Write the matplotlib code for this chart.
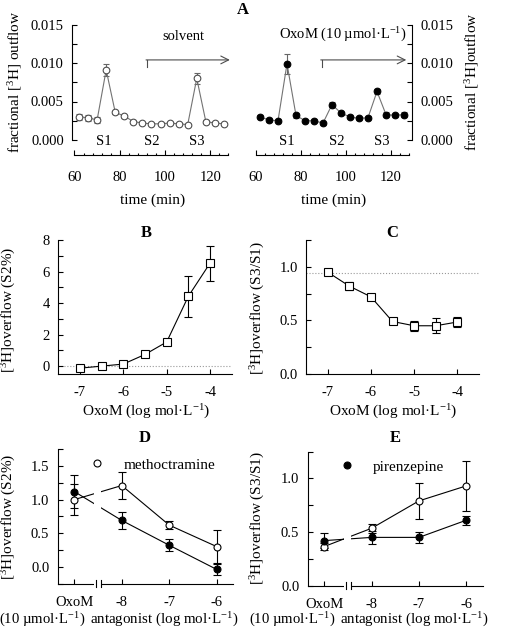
import matplotlib
matplotlib.use('Agg')
import matplotlib.pyplot as plt
from matplotlib.ticker import MultipleLocator, FixedLocator, FormatStrFormatter
from matplotlib.lines import Line2D

plt.rcParams['font.family'] = ['Liberation Serif', 'DejaVu Serif']
plt.rcParams['mathtext.fontset'] = 'custom'
plt.rcParams['mathtext.rm'] = 'Liberation Serif'
plt.rcParams['mathtext.it'] = 'Liberation Serif:italic'
plt.rcParams['mathtext.bf'] = 'Liberation Serif:bold'
plt.rcParams['axes.unicode_minus'] = False

# ---------------- data ----------------
time_min = [62, 66, 70, 74, 78, 82, 86, 90, 94, 98, 102, 106, 110, 114, 118, 122, 126]
solvent_outflow = [0.0030, 0.0029, 0.0026, 0.0091, 0.0036, 0.0031, 0.0024, 0.0022, 0.0021,
                   0.0021, 0.0022, 0.0021, 0.0020, 0.0080, 0.0024, 0.0022, 0.0021]
solvent_err = [0.0004, 0.0004, 0.0004, 0.0008, 0.0002, 0.0002, 0.0002, 0.0001, 0.0001,
               0.0001, 0.0001, 0.0001, 0.0001, 0.0007, 0.0002, 0.0001, 0.0001]
oxom_outflow = [0.0030, 0.0026, 0.0025, 0.0099, 0.0032, 0.0025, 0.0025, 0.0022, 0.0046,
                0.0035, 0.0030, 0.0028, 0.0029, 0.0063, 0.0033, 0.0032, 0.0033]
oxom_err = [0.0002, 0.0002, 0.0002, 0.0013, 0.0003, 0.0002, 0.0002, 0.0002, 0.0003,
            0.0002, 0.0002, 0.0002, 0.0002, 0.0003, 0.0003, 0.0002, 0.0003]
s_labels = ['S1', 'S2', 'S3']
s_pos_left = [73, 94, 114]
s_pos_right = [74, 96, 116]

log_oxom = [-7, -6.5, -6, -5.5, -5, -4.5, -4]
s2_pct = [-0.13, 0.0, 0.13, 0.74, 1.53, 4.43, 6.53]
s2_err = [0.15, 0.10, 0.15, 0.15, 0.15, 1.30, 1.10]
s3s1 = [0.95, 0.82, 0.72, 0.49, 0.45, 0.45, 0.485]
s3s1_err = [0.02, 0.04, 0.03, 0.02, 0.045, 0.07, 0.05]
s3s1_control = 0.94

antag_x = [-9, -8, -7, -6]            # -9 = OxoM alone (10 µmol/L)
antag_ticklabels = ['OxoM', '-8', '-7', '-6']
D_methoc = [1.00, 1.21, 0.62, 0.30]
D_methoc_err = [0.23, 0.20, 0.06, 0.24]
D_piren = [1.12, 0.69, 0.32, -0.04]
D_piren_err = [0.25, 0.13, 0.09, 0.08]
E_methoc = [0.365, 0.535, 0.79, 0.93]
E_methoc_err = [0.03, 0.04, 0.17, 0.23]
E_piren = [0.42, 0.45, 0.45, 0.61]
E_piren_err = [0.07, 0.06, 0.05, 0.04]

# ---------------- figure ----------------
W, H = 505, 629
fig = plt.figure(figsize=(W / 100, H / 100), dpi=100)


def box(l, t, r, b):
    return [l / W, 1 - b / H, (r - l) / W, (b - t) / H]


def fp(x, y):
    return (x / W, 1 - y / H)


TICK = 10.5
LAB = 11
LW = 0.8


def style(ax, xpad=9, ypad=6):
    for s in ['top', 'right']:
        ax.spines[s].set_visible(False)
    for s in ax.spines.values():
        s.set_linewidth(LW)
    ax.tick_params(which='both', direction='in', labelsize=TICK, width=LW, length=3.6)
    ax.tick_params(axis='x', pad=xpad)
    ax.tick_params(axis='y', pad=ypad)


# ---------- Panel A ----------
def panel_a(ax, y, yerr, filled, spos, right=False):
    ax.set_xlim(59, 130 if not right else 129.6)
    ax.set_ylim(-0.001, 0.0155)
    ax.spines['top'].set_visible(False)
    if right:
        ax.spines['left'].set_visible(False)
        ax.yaxis.tick_right()
        side = 'right'
    else:
        ax.spines['right'].set_visible(False)
        side = 'left'
    for s in ax.spines.values():
        s.set_linewidth(LW)
    ax.spines[side].set_bounds(0, 0.015)
    ax.spines['bottom'].set_position(('outward', 5.3))
    ax.spines['bottom'].set_bounds(60, 128)
    ax.xaxis.set_major_locator(FixedLocator([60, 80, 100, 120]))
    ax.xaxis.set_minor_locator(MultipleLocator(4))
    ax.yaxis.set_major_locator(MultipleLocator(0.005))
    ax.yaxis.set_minor_locator(MultipleLocator(0.0025))
    ax.yaxis.set_major_formatter(FormatStrFormatter('%.3f'))
    ax.tick_params(which='both', direction='in', labelsize=TICK, width=LW)
    ax.tick_params(axis='y', which='both', length=3.6, pad=6)
    ax.tick_params(axis='x', which='major', length=3.6, pad=11.5)
    ax.tick_params(axis='x', which='minor', length=1.8)
    mfc = 'k' if filled else 'white'
    mec = 'k' if filled else '0.3'
    ax.errorbar(time_min, y, yerr=yerr, fmt='-o', color='0.45', lw=LW, ms=4.8,
                mfc=mfc, mec=mec, mew=0.8, ecolor='0.4', elinewidth=0.8, capsize=2.5,
                capthick=0.8, zorder=3)
    for lab, xp in zip(s_labels, spos):
        ax.text(xp, -0.0002, lab, ha='center', va='center', fontsize=TICK)


axA1 = fig.add_axes(box(72.2, 20.65, 233, 147.7))
panel_a(axA1, solvent_outflow, solvent_err, False, s_pos_left)
axA1.plot([92, 92], [0.0095, 0.0104], color='0.3', lw=LW)
axA1.annotate('', xy=(128.6, 0.0104), xytext=(91.6, 0.0104),
              arrowprops=dict(arrowstyle='->', color='0.3', lw=LW,
                              shrinkA=0, shrinkB=0, mutation_scale=14))
axA1.text(108, 0.0134, 'solvent', ha='center', va='center', fontsize=TICK)

axA2 = fig.add_axes(box(253.25, 20.65, 412.1, 147.7))
panel_a(axA2, oxom_outflow, oxom_err, True, s_pos_right, right=True)
axA2.plot([89.4, 89.4], [0.0095, 0.0104], color='0.3', lw=LW)
axA2.annotate('', xy=(127, 0.0104), xytext=(89.0, 0.0104),
              arrowprops=dict(arrowstyle='->', color='0.3', lw=LW,
                              shrinkA=0, shrinkB=0, mutation_scale=14))
axA2.text(99, 0.0136, r'OxoM (10 µmol·L$^{-1}$)', ha='center', va='center', fontsize=TICK)

fig.text(*fp(243, 10), 'A', ha='center', va='center', fontsize=12, fontweight='bold')
fig.text(*fp(15, 82), r'fractional [$^{3}$H] outflow', rotation=90, ha='center', va='center', fontsize=LAB)
fig.text(*fp(472, 82), r'fractional [$^{3}$H]outflow', rotation=90, ha='center', va='center', fontsize=LAB)
fig.text(*fp(153, 200), 'time (min)', ha='center', va='center', fontsize=LAB)
fig.text(*fp(334, 200), 'time (min)', ha='center', va='center', fontsize=LAB)

# ---------- Panel B ----------
axB = fig.add_axes(box(58.3, 240, 231.7, 374))
style(axB)
axB.set_xlim(-7.5, -3.5)
axB.set_ylim(-0.5, 8)
axB.spines['left'].set_bounds(-0.5, 8)
axB.axhline(0, color='0.6', ls=':', lw=0.8, zorder=1)
axB.errorbar(log_oxom, s2_pct, yerr=s2_err, fmt='-s', color='k', lw=LW, ms=5.3,
             mfc='white', mec='k', mew=0.8, elinewidth=0.8, capsize=3, capthick=0.8, zorder=3)
axB.xaxis.set_major_locator(FixedLocator([-7, -6, -5, -4]))
axB.yaxis.set_major_locator(MultipleLocator(2))
axB.yaxis.set_minor_locator(MultipleLocator(1))
axB.xaxis.set_major_formatter(FormatStrFormatter('%d'))
axB.yaxis.set_major_formatter(FormatStrFormatter('%d'))
fig.text(*fp(146, 233), 'B', ha='center', va='center', fontsize=12, fontweight='bold')
fig.text(*fp(9, 310), r'[$^{3}$H]overflow (S2%)', rotation=90, ha='center', va='center', fontsize=LAB)
fig.text(*fp(146, 412), r'OxoM (log mol·L$^{-1}$)', ha='center', va='center', fontsize=LAB)

# ---------- Panel C ----------
axC = fig.add_axes(box(306.1, 240, 478.9, 374))
style(axC)
axC.set_xlim(-7.5, -3.5)
axC.set_ylim(0, 1.25)
axC.axhline(s3s1_control, color='0.6', ls=':', lw=0.8, zorder=1)
axC.errorbar(log_oxom, s3s1, yerr=s3s1_err, fmt='-s', color='k', lw=LW, ms=5.3,
             mfc='white', mec='k', mew=0.8, elinewidth=0.8, capsize=3, capthick=0.8, zorder=3)
axC.xaxis.set_major_locator(FixedLocator([-7, -6, -5, -4]))
axC.yaxis.set_major_locator(MultipleLocator(0.5))
axC.yaxis.set_minor_locator(MultipleLocator(0.25))
axC.xaxis.set_major_formatter(FormatStrFormatter('%d'))
axC.yaxis.set_major_formatter(FormatStrFormatter('%.1f'))
fig.text(*fp(392, 233), 'C', ha='center', va='center', fontsize=12, fontweight='bold')
fig.text(*fp(258, 308), r'[$^{3}$H]overflow (S3/S1)', rotation=90, ha='center', va='center', fontsize=LAB)
fig.text(*fp(393, 412), r'OxoM (log mol·L$^{-1}$)', ha='center', va='center', fontsize=LAB)


# ---------- Panels D, E ----------
def antag_panel(ax, ylim, methoc, methoc_err, piren, piren_err, legend_open):
    style(ax)
    ax.set_xlim(-9.35, -5.65)
    ax.set_ylim(*ylim)
    ax.errorbar(antag_x, methoc, yerr=methoc_err, fmt='-o', color='k', lw=LW, ms=5,
                mfc='white', mec='k', mew=0.8, elinewidth=0.8, capsize=3, capthick=0.8, zorder=2)
    ax.errorbar(antag_x, piren, yerr=piren_err, fmt='-o', color='k', lw=LW, ms=5,
                mfc='k', mec='k', mew=0.8, elinewidth=0.8, capsize=3, capthick=0.8, zorder=2)
    band = ax.axvspan(-8.58, -8.44, ymin=-0.05, ymax=0.8, color='white', zorder=2.6, lw=0)
    band.set_clip_on(False)
    tr = ax.get_xaxis_transform()
    for xb in (-8.54, -8.43):
        ax.plot([xb, xb], [-0.027, 0.027], transform=tr, color='k', lw=LW,
                clip_on=False, zorder=2.7)
    ax.xaxis.set_major_locator(FixedLocator(antag_x))
    ax.set_xticklabels(antag_ticklabels)
    ax.yaxis.set_major_locator(MultipleLocator(0.5))
    ax.yaxis.set_minor_locator(MultipleLocator(0.25))
    ax.yaxis.set_major_formatter(FormatStrFormatter('%.1f'))
    if legend_open:
        h = Line2D([], [], marker='o', ls='none', ms=5, mfc='white', mec='k', mew=0.8)
        lab = 'methoctramine'
    else:
        h = Line2D([], [], marker='o', ls='none', ms=5, mfc='k', mec='k', mew=0.8)
        lab = 'pirenzepine'
    ax.legend([h], [lab], loc='center left', bbox_to_anchor=(0.182, 0.885), frameon=False,
              fontsize=LAB, handlelength=1.0, handletextpad=1.2, borderpad=0, borderaxespad=0)


axD = fig.add_axes(box(57.7, 449.3, 233.3, 583.5))
antag_panel(axD, (-0.25, 1.75), D_methoc, D_methoc_err, D_piren, D_piren_err, True)
fig.text(*fp(145, 438), 'D', ha='center', va='center', fontsize=12, fontweight='bold')
fig.text(*fp(9, 517), r'[$^{3}$H]overflow (S2%)', rotation=90, ha='center', va='center', fontsize=LAB)
fig.text(*fp(42.5, 620), r'(10 µmol·L$^{-1}$)', ha='center', va='center', fontsize=10.6)
fig.text(*fp(164, 620), r'antagonist (log mol·L$^{-1}$)', ha='center', va='center', fontsize=10.8)

axE = fig.add_axes(box(307.7, 451.5, 482.9, 585.7))
antag_panel(axE, (0, 1.25), E_methoc, E_methoc_err, E_piren, E_piren_err, False)
fig.text(*fp(395, 438), 'E', ha='center', va='center', fontsize=12, fontweight='bold')
fig.text(*fp(258, 518), r'[$^{3}$H]overflow (S3/S1)', rotation=90, ha='center', va='center', fontsize=LAB)
fig.text(*fp(292, 620), r'(10 µmol·L$^{-1}$)', ha='center', va='center', fontsize=10.6)
fig.text(*fp(414, 620), r'antagonist (log mol·L$^{-1}$)', ha='center', va='center', fontsize=10.8)

fig.savefig('out.png', dpi=100)
